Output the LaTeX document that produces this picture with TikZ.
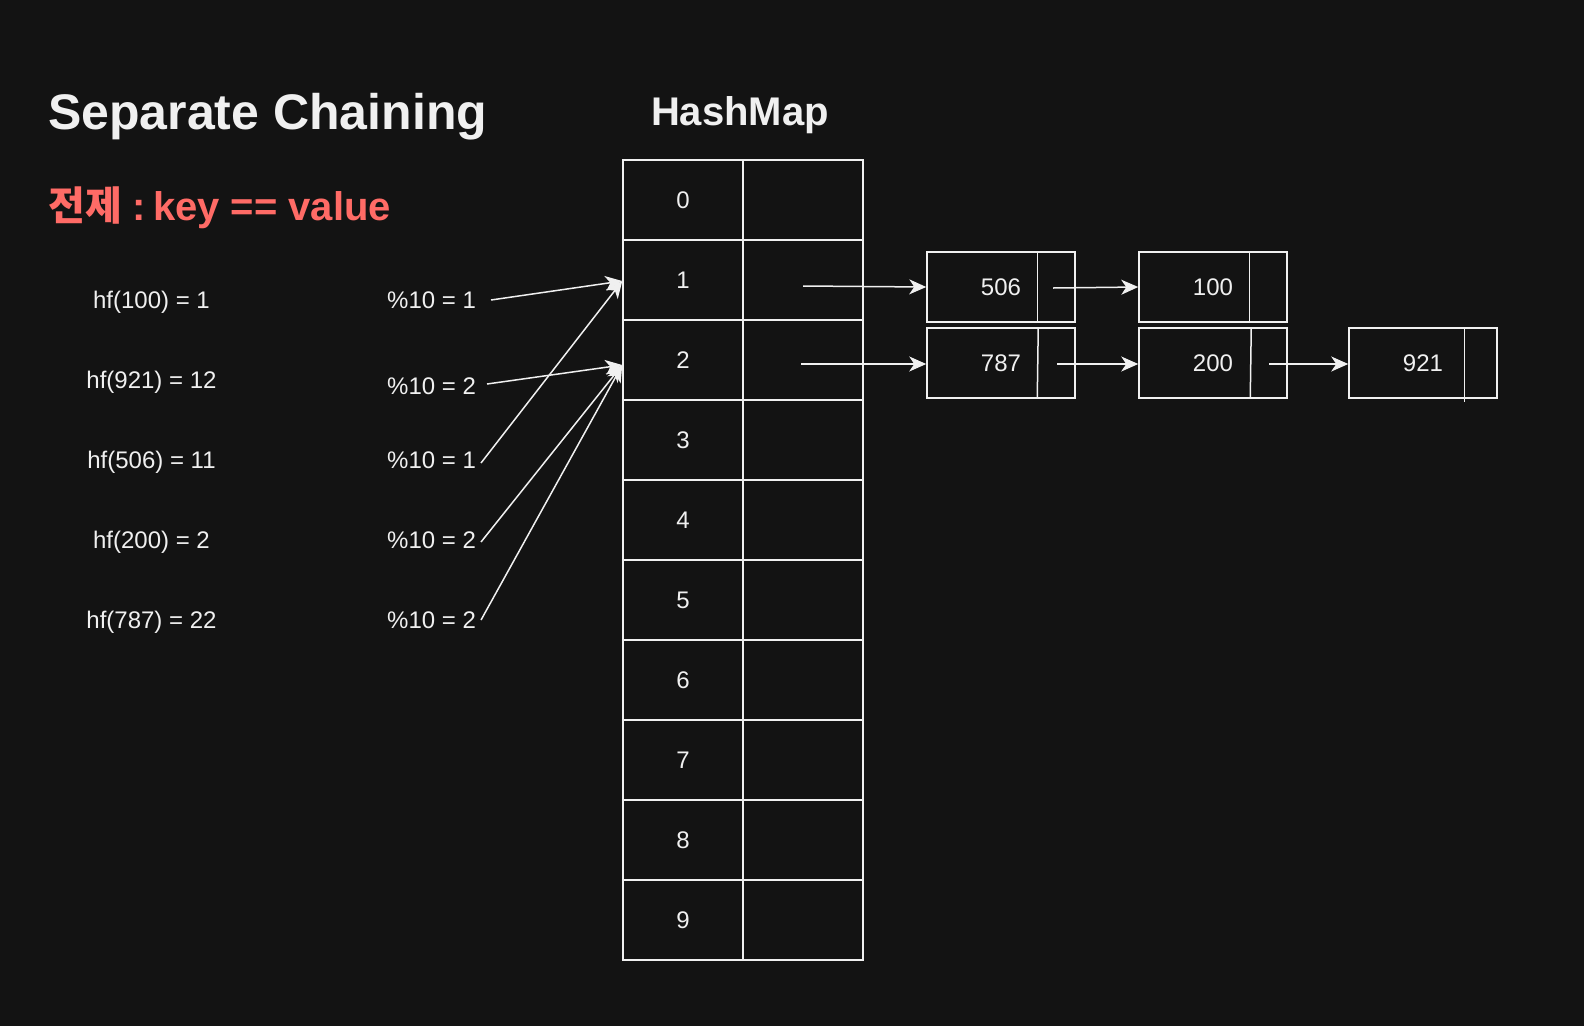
\documentclass[tikz,border=0pt]{standalone}
\usepackage{fontspec}
\setmainfont{Liberation Sans}
\newfontfamily\krfont{Noto Sans CJK KR}
\usetikzlibrary{arrows.meta}
\definecolor{bg}{HTML}{131313}
\definecolor{fg}{HTML}{F0F0F0}
\definecolor{accent}{HTML}{FF6B66}
\begin{document}
\begin{tikzpicture}[x=1pt,y=-1pt,
  cell/.style={draw=fg, line width=1.5pt, minimum width=120pt, minimum height=80pt, inner sep=0pt, text=fg, font=\fontsize{24}{28}\selectfont},
  chainbox/.style={draw=fg, line width=1.5pt, minimum width=148pt, minimum height=70pt, inner sep=0pt, text=fg, font=\fontsize{24}{28}\selectfont},
  lbl/.style={text=fg, font=\fontsize{24}{28}\selectfont, inner sep=0pt},
  arr/.style={draw=fg, line width=1.5pt, -{Stealth[length=17pt,width=15pt,inset=5pt]}},
  divider/.style={draw=fg, line width=1.5pt}
]
\fill[bg] (0,0) rectangle (1584,1026);
\useasboundingbox (0,0) rectangle (1584,1026);

% titles
\node[anchor=base west, inner sep=0pt, text=fg, font=\fontsize{50}{56}\selectfont\bfseries] (title) at (48,129) {Separate Chaining};
\node[anchor=base west, inner sep=0pt, text=accent, font=\fontsize{40}{46}\selectfont\bfseries] (premise) at (48,220) {{\krfont\bfseries 전제} :\hspace{-8pt} key == value};
\node[anchor=base, inner sep=0pt, text=fg, font=\fontsize{40}{46}\selectfont\bfseries] (hm) at (740,125) {HashMap};

% table
\foreach \i in {0,...,9} {
  \node[cell] (k\i) at (683,200+80*\i) {\i};
  \node[cell] (v\i) at (803,200+80*\i) {};
}

% hash labels
\node[lbl] (h1) at (151.5,302.5) {hf(100) = 1};
\node[lbl] (h2) at (151.5,382.5) {hf(921) = 12};
\node[lbl] (h3) at (151.5,462.5) {hf(506) = 11};
\node[lbl] (h4) at (151.5,542.5) {hf(200) = 2};
\node[lbl] (h5) at (151.5,622.5) {hf(787) = 22};

\node[lbl, anchor=west] (m1) at (387,300) {\%10 = 1};
\node[lbl, anchor=west] (m2) at (387,386) {\%10 = 2};
\node[lbl, anchor=west] (m3) at (387,460) {\%10 = 1};
\node[lbl, anchor=west] (m4) at (387,540) {\%10 = 2};
\node[lbl, anchor=west] (m5) at (387,620) {\%10 = 2};

\coordinate (s1) at (491,300);
\coordinate (s2) at (487,384);
\coordinate (s3) at (481,463);
\coordinate (s4) at (481,542);
\coordinate (s5) at (481,620);

\draw[arr] (s1) -- ([yshift=-1pt]k1.west);
\draw[arr] (s3) -- ([yshift=-1pt]k1.west);
\draw[arr] (s2) -- ([yshift=-5pt]k2.west);
\draw[arr] (s4) -- ([yshift=-5pt]k2.west);
\draw[arr] (s5) -- ([yshift=-5pt]k2.west);

% chains
\node[chainbox] (n506) at (1001,287) {506};
\node[chainbox] (n787) at (1001,363) {787};
\node[chainbox] (n100) at (1213,287) {100};
\node[chainbox] (n200) at (1213,363) {200};
\node[chainbox] (n921) at (1423,363) {921};

\draw[divider] ([xshift=111pt]n506.north west) -- ([xshift=111pt]n506.south west);
\draw[divider] ([xshift=112pt]n787.north west) -- ([xshift=111pt]n787.south west);
\draw[divider] ([xshift=111pt]n100.north west) -- ([xshift=111pt]n100.south west);
\draw[divider] ([xshift=113pt]n200.north west) -- ([xshift=112pt]n200.south west);
\draw[divider] ([xshift=116pt]n921.north west) -- ([xshift=116pt,yshift=-3pt]n921.south west);

\coordinate (c1) at (803,286);
\coordinate (c2) at (801,364);
\coordinate (c3) at (1053,288);
\coordinate (c4) at (1057,364);
\coordinate (c5) at (1269,364);

\draw[arr] (c1) -- (n506.west);
\draw[arr] (c2) -- ([yshift=-1pt]n787.west);
\draw[arr] (c3) -- (n100.west);
\draw[arr] (c4) -- ([yshift=-1pt]n200.west);
\draw[arr] (c5) -- ([yshift=-1pt]n921.west);
\end{tikzpicture}
\end{document}
